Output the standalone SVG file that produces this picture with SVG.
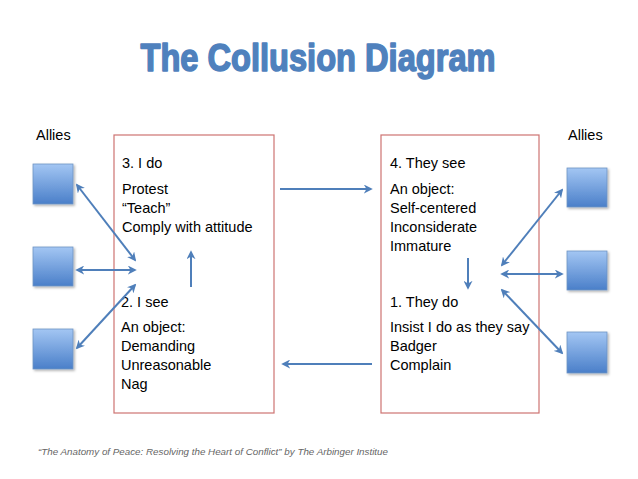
<svg xmlns="http://www.w3.org/2000/svg" width="638" height="479" viewBox="0 0 638 479">
<defs>
<linearGradient id="sq" x1="0" y1="0" x2="0" y2="1">
<stop offset="0" stop-color="#a3c6f3"/>
<stop offset="1" stop-color="#4a7fc9"/>
</linearGradient>
<marker id="ah" viewBox="0 0 10 10" refX="8" refY="5" markerWidth="4.5" markerHeight="4.5" orient="auto-start-reverse" markerUnits="strokeWidth">
<path d="M0,0 L10,5 L0,10 L3,5 Z" fill="#4f7fba"/>
</marker>
<filter id="sh" x="-20%" y="-20%" width="150%" height="150%">
<feDropShadow dx="1.5" dy="1.5" stdDeviation="1.2" flood-color="#000" flood-opacity="0.3"/>
</filter>
</defs>
<style>
.t{font-family:"Liberation Sans",Arial,sans-serif;font-size:14.5px;fill:#000}
.box{fill:#fff;stroke:#c0504d;stroke-width:1.2;stroke-opacity:0.8}
.sq{fill:url(#sq);stroke:#6f94c4;stroke-width:0.8;filter:url(#sh)}
.c{stroke:#4f7fba;stroke-width:2;fill:none}
.one{marker-end:url(#ah)}
.two{marker-start:url(#ah);marker-end:url(#ah)}
</style>
<rect width="638" height="479" fill="#fff"/>
<text x="318" y="71" text-anchor="middle" font-family="Liberation Sans Narrow,Liberation Sans,sans-serif" font-weight="bold" font-size="39" fill="#4f81bd" stroke="#4f81bd" stroke-width="1.6" stroke-linejoin="round" textLength="355" lengthAdjust="spacingAndGlyphs">The Collusion Diagram</text>
<g id="allies-left-label"><text class="t" x="36" y="140">Allies</text></g>
<g id="allies-right-label"><text class="t" x="568" y="140">Allies</text></g>
<g id="box-left">
<rect class="box" x="114" y="135" width="160" height="278"/>
<text class="t" x="122" y="168">3. I do</text>
<text class="t" x="122" y="194">Protest</text>
<text class="t" x="122" y="213">“Teach”</text>
<text class="t" x="122" y="232">Comply with attitude</text>
<text class="t" x="121" y="307">2. I see</text>
<text class="t" x="121" y="332">An object:</text>
<text class="t" x="121" y="351">Demanding</text>
<text class="t" x="121" y="370">Unreasonable</text>
<text class="t" x="121" y="389">Nag</text>
</g>
<g id="box-right">
<rect class="box" x="381" y="135" width="158" height="278"/>
<text class="t" x="390" y="168">4. They see</text>
<text class="t" x="390" y="194">An object:</text>
<text class="t" x="390" y="213">Self-centered</text>
<text class="t" x="390" y="232">Inconsiderate</text>
<text class="t" x="390" y="251">Immature</text>
<text class="t" x="390" y="307">1. They do</text>
<text class="t" x="390" y="332">Insist I do as they say</text>
<text class="t" x="390" y="351">Badger</text>
<text class="t" x="390" y="370">Complain</text>
</g>
<g id="ally-l1"><rect class="sq" x="33" y="164" width="40" height="40"/></g>
<g id="ally-l2"><rect class="sq" x="33" y="247" width="40" height="39"/></g>
<g id="ally-l3"><rect class="sq" x="33" y="329" width="40" height="40"/></g>
<g id="ally-r1"><rect class="sq" x="567" y="168" width="40" height="39"/></g>
<g id="ally-r2"><rect class="sq" x="567" y="251" width="40" height="39"/></g>
<g id="ally-r3"><rect class="sq" x="567" y="332" width="40" height="41"/></g>
<g id="connectors">
<line class="c two" x1="77" y1="185" x2="135" y2="260"/>
<line class="c two" x1="77" y1="270" x2="135" y2="270"/>
<line class="c two" x1="135" y1="285" x2="77" y2="348"/>
<line class="c one" x1="191" y1="287" x2="191" y2="252"/>
<line class="c one" x1="280" y1="189" x2="371" y2="189"/>
<line class="c one" x1="372" y1="364" x2="283" y2="364"/>
<line class="c one" x1="468" y1="258" x2="468" y2="288"/>
<line class="c two" x1="502" y1="265" x2="562" y2="190"/>
<line class="c two" x1="502" y1="274" x2="562" y2="274"/>
<line class="c two" x1="502" y1="290" x2="562" y2="353"/>
</g>
<text x="38" y="455" font-family="Liberation Sans,Arial,sans-serif" font-style="italic" font-size="9" fill="#666" textLength="350" lengthAdjust="spacingAndGlyphs">“The Anatomy of Peace: Resolving the Heart of Conflict” by The Arbinger Institue</text>
</svg>
